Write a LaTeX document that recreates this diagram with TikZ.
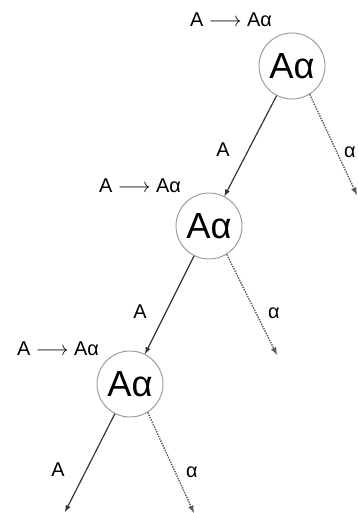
\documentclass[tikz,border=0pt]{standalone}
\usepackage{fontspec}
\setmainfont{Liberation Sans}

\tikzset{
  state/.style={circle,draw=gray!80,line width=0.8pt,minimum size=1.98cm,inner sep=0pt,font=\fontsize{31}{33}\selectfont},
  lbl/.style={inner sep=0pt,font=\fontsize{17}{19}\selectfont},
  arr/.style={-latex,draw=black!80,line width=1pt},
  darr/.style={-latex,draw=black!65,densely dotted,line width=1.2pt},
}

\begin{document}
\begin{tikzpicture}[x=0.03cm,y=-0.03cm]
\useasboundingbox (0,0) rectangle (357,513);

% States
\node[state] (n1) at (292,66) {Aα};
\node[state] (n2) at (209,226) {Aα};
\node[state] (n3) at (130,384) {Aα};

% Rules
\node[lbl] (r1) at (231,20) {A $\longrightarrow$ Aα};
\node[lbl] (r2) at (140,186) {A $\longrightarrow$ Aα};
\node[lbl] (r3) at (58,349) {A $\longrightarrow$ Aα};

% Free ends
\coordinate (d1) at (357,195);
\coordinate (d2) at (277,355);
\coordinate (d3) at (194,513);
\coordinate (s3) at (65,512);

% Connectors
\draw[arr] (n1) -- (n2);
\draw[arr] (n2) -- (n3);
\draw[arr] (n3) -- (s3);
\draw[darr] (n1.-58) -- (d1);
\draw[darr] (n2.-58) -- (d2);
\draw[darr] (n3.-58) -- (d3);

% Edge labels
\node[lbl] (a1) at (223,150) {A};
\node[lbl] (b1) at (350,152) {α};
\node[lbl] (a2) at (140,312) {A};
\node[lbl] (b2) at (274,313) {α};
\node[lbl] (a3) at (58,470) {A};
\node[lbl] (b3) at (192,472) {α};
\end{tikzpicture}
\end{document}
